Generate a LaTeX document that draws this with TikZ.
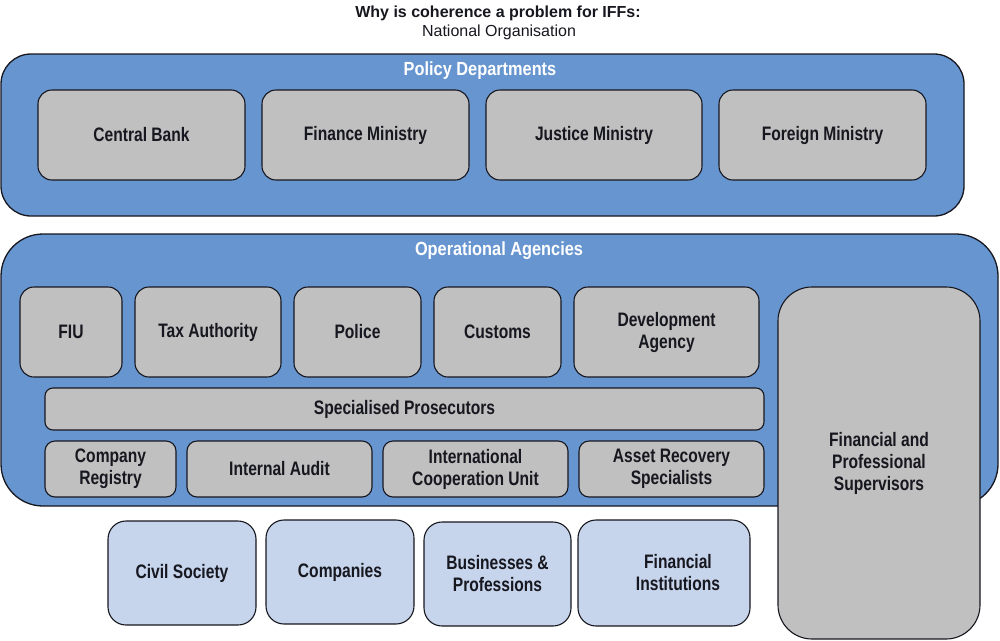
\documentclass[tikz,border=0pt]{standalone}
\usepackage{fontspec}
\setmainfont{Liberation Sans}
\newfontfamily\condA{Liberation Sans}[FakeStretch=0.80]
\newfontfamily\condB{Liberation Sans}[FakeStretch=0.86]
\definecolor{bluebg}{HTML}{6795CF}
\definecolor{grayb}{HTML}{C0C0C0}
\definecolor{lightb}{HTML}{C6D4EC}
\definecolor{ink}{HTML}{17171F}
\begin{document}
\begin{tikzpicture}[x=1pt,y=-1pt,
  outer/.style={draw=ink, line width=1.3pt, fill=bluebg, rounded corners=#1},
  gbox/.style={draw=ink, line width=1.1pt, fill=grayb, rounded corners=14pt, align=center,
     font=\condA\fontsize{19.5}{22}\selectfont\bfseries, text=ink},
  lbox/.style={gbox, fill=lightb, rounded corners=18pt},
  hdr/.style={font=\condB\fontsize{19}{22}\selectfont\bfseries, text=white},
  sz/.style n args={2}{minimum width=#1pt, minimum height=#2pt, inner sep=0pt}
]
\useasboundingbox (0,0) rectangle (1000,640);
\fill[white] (0,0) rectangle (1000,640);

% title
\node[font=\fontsize{16}{19}\selectfont\bfseries, text=ink] (title) at (498,13) {Why is coherence a problem for IFFs:};
\node[font=\fontsize{16}{19}\selectfont, text=ink] (subtitle) at (499,32) {National Organisation};

% Policy departments
\node[outer=30pt, sz={963}{162}] (policy) at (482.5,135) {};
\node[hdr] (policyl) at (480,71) {Policy Departments};
\node[gbox, sz={207}{90}] (cb) at (141.5,135) {Central Bank};
\node[gbox, sz={207}{90}] (fm) at (365.5,135) {Finance Ministry};
\node[gbox, sz={216}{90}] (jm) at (594,135) {Justice Ministry};
\node[gbox, sz={207}{90}] (fo) at (822.5,135) {Foreign Ministry};

% Operational agencies
\node[outer=42pt, sz={997}{272}] (ops) at (499.5,370) {};
\node[hdr] (opsl) at (499,251) {Operational Agencies};
\node[gbox, sz={102}{90}] (fiu) at (71,332) {FIU};
\node[gbox, sz={146}{90}] (tax) at (208,332) {Tax Authority};
\node[gbox, sz={127}{90}] (pol) at (357.5,332) {Police};
\node[gbox, sz={127}{90}] (cus) at (497.5,332) {Customs};
\node[gbox, sz={185}{90}] (dev) at (666.5,332) {Development\\Agency};
\node[gbox, sz={719}{42}, rounded corners=8pt] (spec) at (404.5,409) {Specialised Prosecutors};
\node[gbox, sz={131}{56}, rounded corners=10pt] (creg) at (110.5,469) {Company\\Registry};
\node[gbox, sz={185}{56}, rounded corners=10pt] (ia) at (279.5,469) {Internal Audit};
\node[gbox, sz={185}{56}, rounded corners=10pt] (icu) at (475.5,469) {International\\Cooperation Unit};
\node[gbox, sz={185}{56}, rounded corners=10pt] (ars) at (671.5,469) {Asset Recovery\\Specialists};
\node[gbox, sz={202}{352}, rounded corners=34pt] (sup) at (879,463) {Financial and\\Professional\\Supervisors};

% external
\node[lbox, sz={148}{104}] (cs) at (182,573) {Civil Society};
\node[lbox, sz={148}{104}] (co) at (340,572) {Companies};
\node[lbox, sz={147}{104}] (bp) at (497.5,574) {Businesses \&\\Professions};
\node[lbox, sz={172}{106}] (fi) at (664,573) {\hspace*{28pt}Financial\\\hspace*{28pt}Institutions};
\end{tikzpicture}
\end{document}
